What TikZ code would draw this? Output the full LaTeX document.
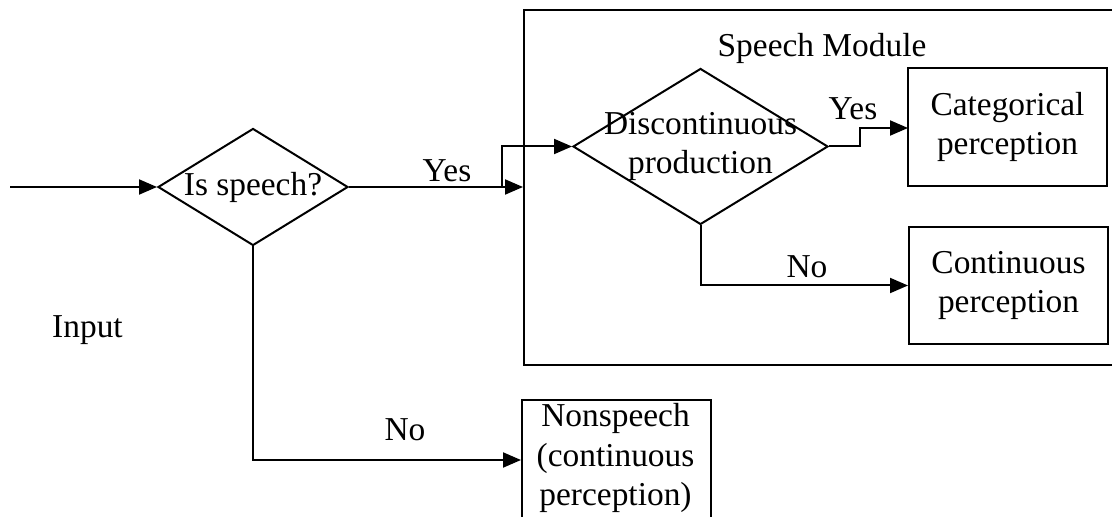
\documentclass[tikz,border=0pt]{standalone}
\usepackage{fontspec}
\setmainfont{Liberation Serif}
\usetikzlibrary{shapes.geometric,arrows.meta}
\begin{document}
\begin{tikzpicture}[x=0.5pt,y=-0.5pt,
  every node/.style={font=\fontsize{16.7}{19.8}\selectfont},
  wire/.style={line width=1pt},
  flow/.style={wire,-{Triangle[length=9pt,width=7.5pt]}},
  decision/.style={draw,line width=1pt,shape=diamond,inner sep=0pt},
  outcome/.style={draw,line width=1pt,rectangle,inner sep=0pt,align=center},
  caption/.style={inner sep=0pt,align=center}]
\useasboundingbox (0,0) rectangle (1112,517);
\clip (0,0) rectangle (1112,517);
\fill[white] (0,0) rectangle (1112,517);

% speech module frame (runs past the right edge)
\node[draw,line width=1pt,rectangle,inner sep=0pt,anchor=north west,
      minimum width=310pt,minimum height=177.5pt] (module) at (523,9) {};
\node[caption] (modtitle) at (822,48) {Speech Module};

% decisions
\node[decision,minimum width=95pt,minimum height=58.5pt] (d1) at (253,187) {};
\node[caption] (d1t) at (d1) {Is speech?};
\node[decision,minimum width=127.5pt,minimum height=78pt] (d2) at (700.5,146.5) {};
\node[caption] (d2t) at (d2) {Discontinuous\\production};

% outcomes
\node[outcome,minimum width=99.5pt,minimum height=59pt] (cat) at (1007.5,127) {Categorical\\perception};
\node[outcome,minimum width=99.5pt,minimum height=58.5pt] (cont) at (1008.5,285.5) {Continuous\\perception};
\node[draw,line width=1pt,rectangle,inner sep=0pt,anchor=north west,
      minimum width=94.5pt,minimum height=80pt] (ns) at (521,399) {};
\node[caption] (nst) at (615.5,458) {Nonspeech\\(continuous\\perception)};

\node[caption] (input) at (87.5,330) {Input};

% connectors
\coordinate (src) at (10,187);
\coordinate (split) at (502,187);
\coordinate (catin) at (908,128);
\draw[flow] (src) -- (d1.west);
\draw[flow] (d1.east) -- (d1.east -| module.west);
\draw[flow] (split) |- (d2.west);
\draw[flow] (d2.east) -- ++(31,0) |- (catin);
\draw[flow] (d2.south) |- (cont.west);
\draw[flow] (d1.south) |- (ns.west |- 0,460);

% branch labels
\node[caption] (yes1) at (447,171) {Yes};
\node[caption] (yes2) at (853,109) {Yes};
\node[caption] (no2) at (807,267) {No};
\node[caption] (no1) at (405,430) {No};
\end{tikzpicture}
\end{document}
